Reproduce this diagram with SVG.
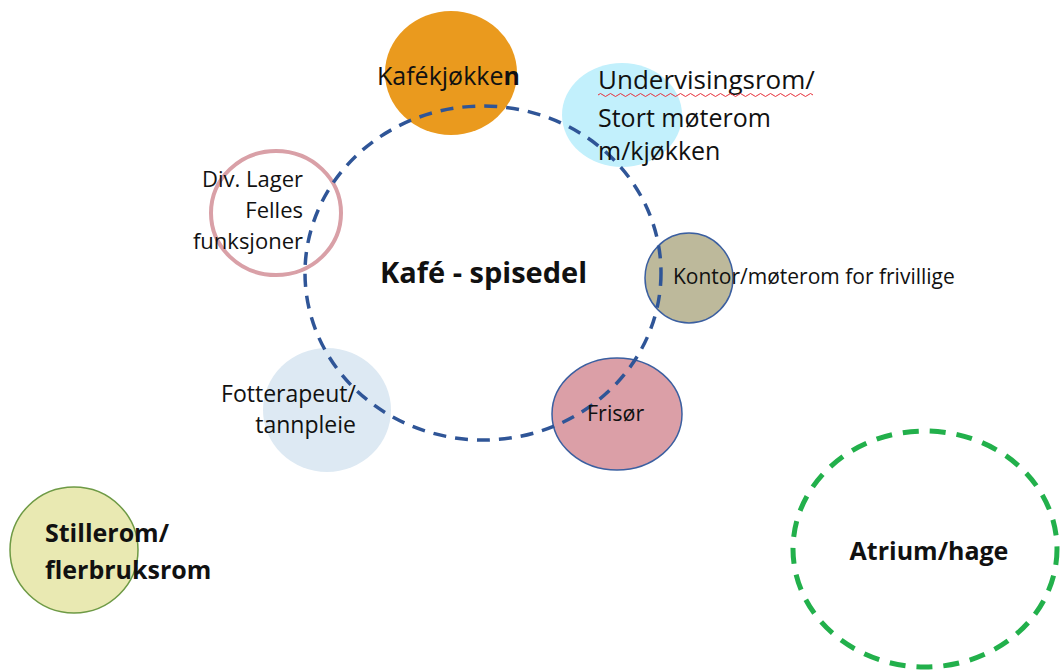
<svg xmlns="http://www.w3.org/2000/svg" width="1060" height="670" viewBox="0 0 1060 670">
<style>
text{font-family:"Open Sans","Noto Sans","Liberation Sans",sans-serif;fill:#111;}
.b{font-weight:bold;}
.ring{fill:none;stroke:#2F5597;stroke-width:3.5;stroke-dasharray:13 9;}
.thin{stroke:#3B5FA0;stroke-width:1.5;}
</style>
<rect width="1060" height="670" fill="#ffffff"/>
<g id="connectors"/>
<g id="kafekjokken">
<ellipse cx="451" cy="73" rx="66" ry="62" fill="#EA9A1E"/>
</g>
<g id="undervisingsrom">
<ellipse cx="622" cy="115" rx="60" ry="52" fill="#C2F0FC"/>
</g>
<g id="div-lager">
<ellipse cx="276" cy="213" rx="65" ry="62" fill="#ffffff" stroke="#D9A0A7" stroke-width="4"/>
</g>
<g id="kontor">
<ellipse cx="689" cy="278" rx="44" ry="45" fill="#BDB99B" class="thin"/>
</g>
<g id="fotterapeut">
<ellipse cx="327" cy="410" rx="64" ry="62" fill="#DDE9F3"/>
</g>
<g id="frisor">
<ellipse cx="617" cy="414" rx="65" ry="56" fill="#DB9FA7" class="thin"/>
</g>
<g id="kafe-spisedel">
<ellipse cx="483" cy="273" rx="178" ry="167" class="ring"/>
<text x="380" y="283" font-size="29" class="b">Kafé - spisedel</text>
</g>
<g id="labels">
<text x="377" y="85" font-size="25">Kafékjøkke<tspan class="b">n</tspan></text>
<text x="598" y="89" font-size="26">Undervisingsrom/</text>
<path d="M598 95 q2.5 -3 5 0 t5 0 t5 0 t5 0 t5 0 t5 0 t5 0 t5 0 t5 0 t5 0 t5 0 t5 0 t5 0 t5 0 t5 0 t5 0 t5 0 t5 0 t5 0 t5 0 t5 0 t5 0 t5 0 t5 0 t5 0 t5 0 t5 0 t5 0 t5 0 t5 0 t5 0 t5 0 t5 0 t5 0 t5 0 t5 0 t5 0 t5 0 t5 0 t5 0 t5 0 t5 0 t5 0" fill="none" stroke="#E8303A" stroke-width="1"/>
<text x="598" y="127" font-size="25">Stort møterom</text>
<text x="598" y="160" font-size="25">m/kjøkken</text>
<text x="303" y="187" font-size="22" text-anchor="end">Div. Lager</text>
<text x="303" y="218" font-size="22" text-anchor="end">Felles</text>
<text x="303" y="249" font-size="22" text-anchor="end">funksjoner</text>
<text x="673" y="284" font-size="21">Kontor/møterom for frivillige</text>
<text x="356" y="402" font-size="23" text-anchor="end">Fotterapeut/</text>
<text x="356" y="433" font-size="23" text-anchor="end">tannpleie</text>
<text x="587" y="421" font-size="21.5">Frisør</text>
</g>
<g id="stillerom">
<ellipse cx="74" cy="550" rx="64" ry="63" fill="#E9E9B2" stroke="#6E9A45" stroke-width="1.5"/>
<text x="45" y="542" font-size="25" class="b">Stillerom/</text>
<text x="45" y="579" font-size="25" class="b">flerbruksrom</text>
</g>
<g id="atrium">
<ellipse cx="925" cy="549" rx="132" ry="118" fill="none" stroke="#22B04B" stroke-width="5" stroke-dasharray="16 11"/>
<text x="929" y="560" font-size="25" class="b" text-anchor="middle">Atrium/hage</text>
</g>
</svg>
